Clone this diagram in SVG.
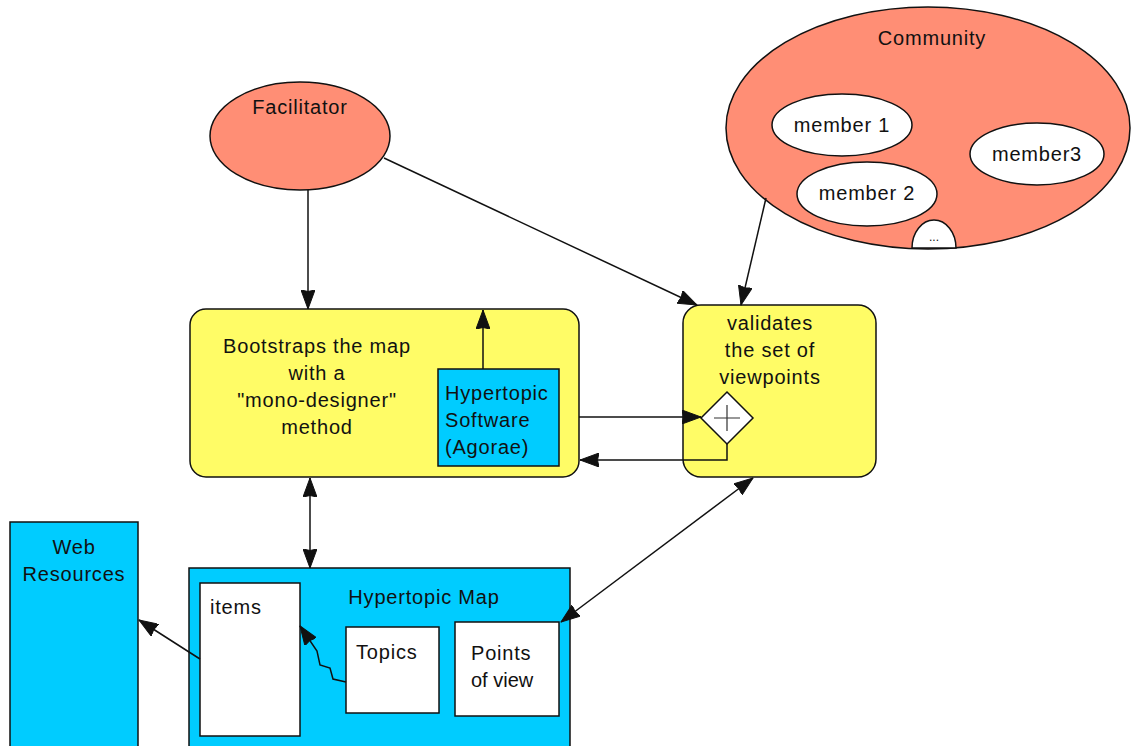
<svg xmlns="http://www.w3.org/2000/svg" width="1132" height="746" viewBox="0 0 1132 746">
  <style>
    text { font-family: "Liberation Sans", Arial, sans-serif; font-size: 20px; fill: #111; letter-spacing: 0.8px; }
    .mid { text-anchor: middle; }
    .actor { fill: #FF8E75; stroke: #111; stroke-width: 1.5; }
    .member { fill: #fff; stroke: #111; stroke-width: 1.5; }
    .task { fill: #FFFC66; stroke: #111; stroke-width: 1.5; }
    .res { fill: #00CCFF; stroke: #111; stroke-width: 1.5; }
    .box { fill: #fff; stroke: #111; stroke-width: 1.5; }
    .link { fill: none; stroke: #111; stroke-width: 1.5; }
  </style>
  <defs>
    <marker id="arrow" viewBox="0 0 20 14" refX="19" refY="7" markerWidth="20" markerHeight="14" markerUnits="userSpaceOnUse" orient="auto-start-reverse">
      <path d="M0,0 L19,7 L0,14 L1.5,7 z" fill="#111" stroke="#111" stroke-width="1" stroke-linejoin="round"/>
    </marker>
  </defs>

  <rect width="1132" height="746" fill="#fff"/>

  <!-- actors -->
  <g id="facilitator">
    <ellipse class="actor" cx="300" cy="136" rx="90" ry="54"/>
    <text class="mid" x="300" y="114">Facilitator</text>
  </g>

  <g id="community">
    <ellipse class="actor" cx="928" cy="128" rx="202" ry="121"/>
    <text class="mid" x="932" y="45">Community</text>
    <g id="member1">
      <ellipse class="member" cx="842" cy="125" rx="70" ry="31"/>
      <text class="mid" x="842" y="132">member 1</text>
    </g>
    <g id="member2">
      <ellipse class="member" cx="867" cy="194" rx="70" ry="32"/>
      <text class="mid" x="867" y="200">member 2</text>
    </g>
    <g id="member3">
      <ellipse class="member" cx="1037" cy="154" rx="67" ry="31"/>
      <text class="mid" x="1037" y="161">member3</text>
    </g>
    <g id="more-members">
      <path class="member" d="M912,248 A22,28 0 0 1 956,248 Z"/>
      <text class="mid" x="934" y="241" style="font-size:12px;letter-spacing:0">...</text>
    </g>
  </g>

  <!-- tasks -->
  <g id="bootstrap">
    <rect class="task" x="190" y="309" width="389" height="168" rx="16"/>
    <text class="mid" x="317" y="353">Bootstraps the map</text>
    <text class="mid" x="317" y="380">with a</text>
    <text class="mid" x="317" y="407">"mono-designer"</text>
    <text class="mid" x="317" y="434">method</text>
  </g>

  <g id="software">
    <rect class="res" x="438" y="369" width="121" height="97"/>
    <text x="445" y="400">Hypertopic</text>
    <text x="445" y="427">Software</text>
    <text x="445" y="454">(Agorae)</text>
  </g>

  <g id="validate">
    <rect class="task" x="683" y="305" width="193" height="172" rx="18"/>
    <text class="mid" x="770" y="330">validates</text>
    <text class="mid" x="770" y="357">the set of</text>
    <text class="mid" x="770" y="384">viewpoints</text>
  </g>

  <g id="gateway">
    <path d="M727,392 L753,418 L727,444 L701,418 Z" fill="#fff" stroke="#111" stroke-width="1.5"/>
    <path d="M714,418 H740 M727,405 V431" stroke="#333" stroke-width="1.2"/>
  </g>

  <!-- resources -->
  <g id="web-resources">
    <rect class="res" x="10" y="522" width="128" height="240"/>
    <text class="mid" x="74" y="554">Web</text>
    <text class="mid" x="74" y="581">Resources</text>
  </g>

  <g id="hypertopic-map">
    <rect class="res" x="189" y="568" width="381" height="190"/>
    <text class="mid" x="424" y="604">Hypertopic Map</text>
    <g id="items">
      <rect class="box" x="200" y="583" width="100" height="153"/>
      <text x="210" y="614">items</text>
    </g>
    <g id="topics">
      <rect class="box" x="346" y="627" width="93" height="86"/>
      <text x="356" y="659">Topics</text>
    </g>
    <g id="points-of-view">
      <rect class="box" x="455" y="622" width="104" height="94"/>
      <text x="471" y="660">Points</text>
      <text x="471" y="687" style="letter-spacing:0">of view</text>
    </g>
  </g>

  <!-- connectors -->
  <g id="connectors">
    <path class="link" d="M308,190 V309" marker-end="url(#arrow)"/>
    <path class="link" d="M384,158 L697,305" marker-end="url(#arrow)"/>
    <path class="link" d="M766,198 L741,305" marker-end="url(#arrow)"/>
    <path class="link" d="M483,369 V310" marker-end="url(#arrow)"/>
    <path class="link" d="M579,417 H701" marker-end="url(#arrow)"/>
    <path class="link" d="M727,444 V460 H580" marker-end="url(#arrow)"/>
    <path class="link" d="M310,478 V568" marker-start="url(#arrow)" marker-end="url(#arrow)"/>
    <path class="link" d="M753,478 L561,622" marker-start="url(#arrow)" marker-end="url(#arrow)"/>
    <path class="link" d="M200,659 L189,652 L139,620" marker-end="url(#arrow)"/>
    <path class="link" d="M346,682 L333,679 L330,668 L320,665 L317,651 L300,626" marker-end="url(#arrow)"/>
  </g>
</svg>
